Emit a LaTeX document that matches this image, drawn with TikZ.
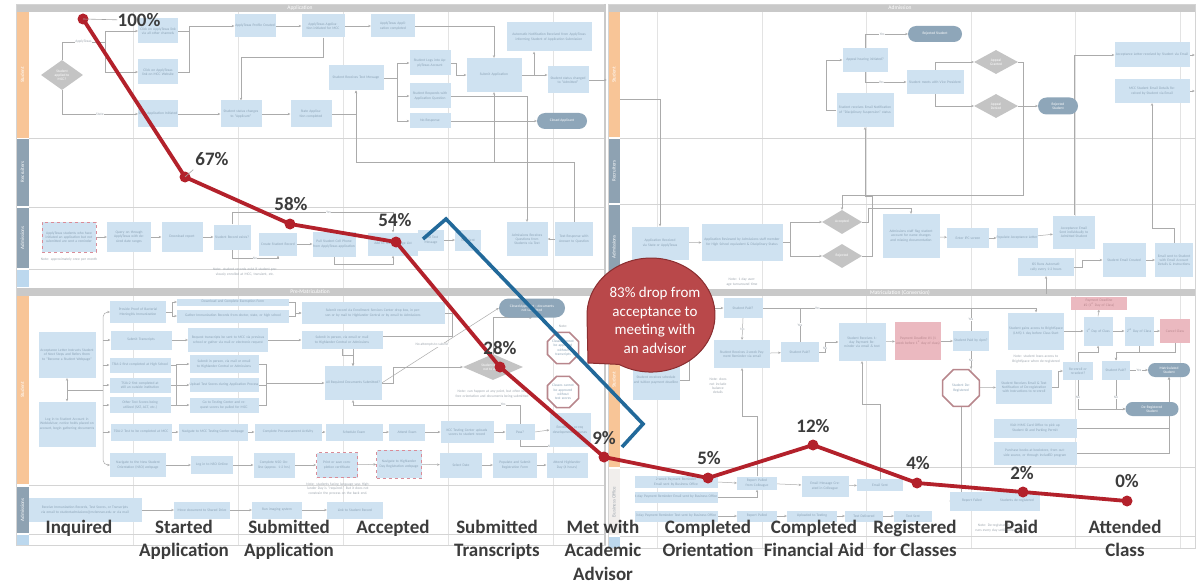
\documentclass[tikz,border=0pt]{standalone}
\usepackage{fontspec}
\setmainfont{Carlito}
\usetikzlibrary{arrows.meta,shapes.geometric,shapes.misc}
\definecolor{boxc}{HTML}{CFE2F1}
\definecolor{boxt}{HTML}{8CA3B6}
\definecolor{linec}{HTML}{ABABAB}
\definecolor{gridc}{HTML}{E3E3E3}
\definecolor{lanec}{HTML}{D4D4D4}
\definecolor{orangel}{HTML}{F8C597}
\definecolor{slate}{HTML}{8EA2B2}
\definecolor{paleblue}{HTML}{BCD8EE}
\definecolor{hdr}{HTML}{C9C9C9}
\definecolor{termc}{HTML}{8EA6B9}
\definecolor{dia}{HTML}{C4C4C4}
\definecolor{pinkc}{HTML}{EBB9C0}
\definecolor{pinkt}{HTML}{B98990}
\definecolor{dashc}{HTML}{D98C98}
\definecolor{octc}{HTML}{B8868C}
\definecolor{notec}{HTML}{A0A8B0}
\definecolor{redl}{HTML}{B3212B}
\definecolor{bluel}{HTML}{22699A}
\definecolor{callf}{HTML}{B9484A}
\definecolor{calld}{HTML}{8A2E30}
\definecolor{labc}{HTML}{3C3C3C}
\definecolor{busoff}{HTML}{F1EEEC}
\newcommand\bgfont{\fontsize{3.6}{4.2}\selectfont}
\newcommand\Bx[7][]{\node[bx,minimum width=#5pt,text width=#5pt,minimum height=#6pt,#1] (#2) at (#3,#4) {#7};}
\newcommand\Dm[7][]{\node[dm,minimum width=#5pt,minimum height=#6pt,#1] (#2) at (#3,#4) {#7};}
\newcommand\Tm[7][]{\node[tm,minimum width=#5pt,minimum height=#6pt,#1] (#2) at (#3,#4) {#7};}
\pgfdeclarelayer{bg}
\pgfdeclarelayer{mid}
\pgfdeclarelayer{fg}
\pgfsetlayers{bg,mid,main,fg}
\begin{document}
\begin{tikzpicture}[x=1pt,y=-1pt,
  bx/.style={fill=boxc,text=boxt,font=\bgfont,align=center,inner xsep=0pt,inner ysep=0.5pt},
  rbx/.style={fill=pinkc,text=pinkt},
  dsh/.style={draw=dashc,dashed,line width=0.9pt},
  dm/.style={diamond,fill=dia,text=white,font=\bgfont,align=center,inner sep=0pt,aspect=1.7},
  tm/.style={rounded rectangle,fill=termc,text=white,font=\bgfont,align=center,inner sep=1pt},
  oc/.style={regular polygon,regular polygon sides=8,draw=octc,line width=1.6pt,fill=white,text=boxt,font=\bgfont,align=center,inner sep=0pt,text width=22pt},
  ar/.style={draw=linec,line width=0.5pt,-{Stealth[length=2.6pt,width=2.4pt]}},
  arb/.style={draw=linec,line width=0.5pt,{Stealth[length=2.6pt,width=2.4pt]}-{Stealth[length=2.6pt,width=2.4pt]}},
  ln/.style={draw=linec,line width=0.5pt},
  lbl/.style={font=\bgfont,text=notec,fill=white,inner sep=0.3pt},
  nt/.style={font=\bgfont,text=notec,align=center,inner sep=0pt},
  lane/.style={font=\fontsize{5}{5}\selectfont,text=white,rotate=90},
  hd/.style={font=\fontsize{5.5}{5.5}\selectfont,text=white},
  pct/.style={font=\fontsize{19}{19}\selectfont\bfseries,text=labc,inner sep=0pt,anchor=north},
  cat/.style={font=\fontsize{19}{23.5}\selectfont\bfseries,text=labc,inner sep=0pt,anchor=north,align=center}]
\useasboundingbox (0,0) rectangle (1202,583);
\begin{pgfonlayer}{bg}
\fill[white] (0,0) rectangle (1202,583);
% grid
\foreach \gx in {133,238,343,448,553} {\draw[gridc,line width=0.6pt] (\gx,12) -- (\gx,545);}
\foreach \gx in {657,762,866,971,1075,1180} {\draw[gridc,line width=0.6pt] (\gx,12) -- (\gx,548);}
% left panel
\fill[hdr] (16,4) rectangle (605,12);
\fill[orangel] (16,12) rectangle (29,138);
\fill[slate] (16,139) rectangle (29,206);
\fill[slate] (16,208) rectangle (29,268);
\fill[paleblue] (16,270) rectangle (29,287);
\fill[hdr] (16,288) rectangle (605,296);
\fill[orangel] (16,296) rectangle (29,484);
\fill[slate] (16,487) rectangle (29,533);
\fill[paleblue] (16,535) rectangle (29,545);
\foreach \hy in {138.5,207,269,485.5,534} {\draw[lanec,line width=0.6pt] (29,\hy) -- (605,\hy);}
\draw[lanec,line width=0.6pt] (16,4) rectangle (605,545);
\draw[hdr,line width=1.6pt] (605,4) -- (605,545);
% right panel
\fill[hdr] (608,4) rectangle (1195,12);
\fill[orangel] (608,12) rectangle (620,137);
\fill[slate] (608,139) rectangle (620,203);
\fill[slate] (608,205) rectangle (620,289);
\fill[hdr] (608,289) rectangle (1195,296);
\fill[orangel] (608,296) rectangle (620,467);
\fill[busoff] (608,469) rectangle (620,535);
\fill[paleblue] (608,537) rectangle (620,548);
\foreach \hy in {138,204,467.5,536} {\draw[lanec,line width=0.6pt] (620,\hy) -- (1195,\hy);}
\draw[lanec,line width=0.6pt] (608,4) rectangle (1195,548);
\end{pgfonlayer}
% headers and lane labels
\node[hd] (h1) at (300,8) {Application};
\node[hd] (h2) at (310,292) {Pre-Matriculation};
\node[hd] (h3) at (900,8) {Admission};
\node[hd] (h4) at (900,292.5) {Matriculation (Conversion)};
\node[lane] (ln1) at (22.5,75) {Student};
\node[lane] (ln2) at (22.5,172) {Recruiters};
\node[lane] (ln3) at (22.5,238) {Admissions};
\node[lane] (ln4) at (22.5,390) {Student};
\node[lane] (ln5) at (22.5,510) {Admissions};
\node[lane] (ln6) at (614,75) {Student};
\node[lane] (ln7) at (614,171) {Recruiters};
\node[lane] (ln8) at (614,247) {Admissions};
\node[lane] (ln9) at (614,380) {Student};
\node[lane,text=notec] (ln10) at (614,502) {Business Office};
% ---------- Application / Student
\Dm{a1}{62}{75}{42}{30}{Student\\applied to\\MCC?}
\Bx{a2}{158}{31}{40}{25}{Click on ApplyTexas link via all other channels}
\Bx{a3}{158}{72}{40}{25}{Click on ApplyTexas link on MCC Website}
\Bx{a4}{158}{114}{40}{27}{State Application Initiated}
\Bx{a5}{255}{26}{41}{23}{ApplyTexas Profile Created}
\Bx{a6}{323}{26}{43}{23}{ApplyTexas Application initiated for MCC}
\Bx{a7}{393}{26}{44}{23}{ApplyTexas Application completed}
\Bx{a8}{241}{114}{41}{27}{Student status changes to ``Applicant''}
\Bx{a9}{311}{114}{41}{27}{State Application completed}
\Bx{a10}{356}{78}{55}{25}{Student Receives Text Message}
\Bx{a11}{430}{63}{41}{25}{Student Logs into ApplyTexas Account}
\Bx{a12}{430}{96}{41}{25}{Student Responds with Application Question}
\Bx{a13}{430}{121}{41}{15}{No Response}
\Bx{a14}{494}{75}{55}{34}{Submit Application}
\Bx{a15}{549}{37}{85}{29}{Automatic Notification Received from ApplyTexas informing Student of Application Submission}
\Bx{a16}{568}{80}{41}{27}{Student status changed to ``Admitted''}
\Tm{a17}{562}{121}{52}{16}{Closed Applicant}
% ---------- Application / Admissions
\Bx[dsh]{c1}{69}{237}{54}{30}{ApplyTexas students who have initiated an application but not submitted are sent a reminder}
\Bx{c2}{129}{237}{44}{30}{Query on through ApplyTexas with desired date ranges}
\Bx{c3}{182}{237}{41}{30}{Download report}
\Bx{c4}{232}{237}{37}{25}{Student Record exists?}
\Bx{c5}{278}{244}{38}{23}{Create Student Record}
\Bx{c6}{334}{244}{43}{25}{Pull Student Cell Phone from ApplyTexas application}
\Bx{c7}{393}{244}{50}{23}{Add to Text Message List}
\Bx{c8}{431}{240}{26}{21}{Send Text Message}
\Bx{c9}{468}{240}{26}{21}{Text Sent}
\Bx{c10}{527}{239}{41}{34}{Admissions Receives Questions from Students via Text}
\Bx{c11}{574}{239}{38}{34}{Text Response with Answer to Question}
\node[nt,text width=60pt] (n1) at (69,260) {Note: approximately once per month};
\node[nt,text width=80pt] (n2) at (245,272) {Note: student records exist if student previously enrolled at MCC, transient, etc.};
% ---------- Pre-Matriculation / Student
\Bx{p1}{67}{355}{57}{46}{Acceptance Letter Instructs Student of Next Steps and Refers them to ``Become a Student Webpage''}
\Bx{p2}{67}{424}{57}{45}{Log in to Student Account in WebAdvisor, notice holds placed on account, begin gathering documents}
\Bx{p3}{138}{312}{56}{22}{Provide Proof of Bacterial Meningitis Immunization}
\Bx{p4}{233}{302}{112}{7}{Download and Complete Exemption Form}
\Bx{p5}{233}{316}{112}{13}{Gather Immunization Records from doctor, state, or high school}
\Bx{p6}{373}{313}{143}{22}{Submit record via Enrollment Services Center drop box, in person or by mail to Highlander Central or by email to Admissions}
\Bx{p7}{141}{340}{61}{19}{Submit Transcripts}
\Bx{p8}{228}{340}{80}{24}{Request transcripts be sent to MCC via previous school or gather via mail or electronic request}
\Bx{p9}{342}{340}{81}{18}{Submit in person, via email or mail to Highlander Central or Admissions}
\Bx{p10}{140}{365}{61}{15}{TSIA-2 first completed at High School}
\Bx{p11}{140}{385}{61}{15}{TSIA-2 first completed at still an outside institution}
\Bx{p12}{140}{405}{61}{16}{Other Test Scores being utilized (SAT, ACT, etc.)}
\Bx{p13}{224}{364}{69}{18}{Submit in person, via mail or email to Highlander Central or Admissions}
\Bx{p14}{224}{385}{69}{14}{Upload Test Scores during Application Process}
\Bx{p15}{224}{405}{69}{15}{Go to Testing Center and request scores be pulled for MCC}
\Bx{p16}{353}{383}{57}{34}{All Required Documents Submitted?}
\Dm{p17}{493}{367}{60}{26}{Student decides\\not to attend}
\Tm{p18}{532}{308}{68}{19}{Closed Applicant -- documents\\not submitted}
\node[oc] (p19) at (563,348) {Classes cannot be approved without transcripts};
\node[oc] (p20) at (563,392) {Classes cannot be approved without test scores};
\Bx{p21}{141}{432}{61}{17}{TSIA-2 Test to be completed at MCC}
\Bx{p22}{213}{432}{69}{17}{Navigate to MCC Testing Center webpage}
\Bx{p23}{288}{432}{67}{17}{Complete Pre-assessment Activity}
\Bx{p24}{354}{432}{57}{17}{Schedule Exam}
\Bx{p25}{407}{432}{36}{17}{Attend Exam}
\Bx{p26}{467}{432}{53}{22}{KCC Testing Center uploads scores to student record}
\Bx{p27}{520}{432}{29}{16}{Pass?}
\Bx{p28}{570}{430}{41}{34}{Enrolled in co-req developmental courses}
\Bx{p29}{138}{465}{56}{24}{Navigate to the New Student Orientation (NSO) webpage}
\Bx{p30}{212}{465}{42}{18}{Log in to NSO Online}
\Bx{p31}{274}{465}{41}{25}{Complete NSO Online (approx. 1-2 hrs)}
\Bx[dsh]{p32}{337}{465}{41}{25}{Print or save completion certificate}
\Bx[dsh]{p33}{399}{464}{45}{28}{Navigate to Highlander Day Registration webpage}
\Bx{p34}{461}{465}{42}{25}{Select Date}
\Bx{p35}{515}{465}{44}{25}{Populate and Submit Registration Form}
\Bx{p36}{567}{465}{41}{25}{Attend Highlander Day (4 hours)}
\node[nt] (n3) at (563,326) {Note:};
\node[lbl] (n4) at (432,345) {No attempts to submit};
\node[nt,text width=85pt] (n5) at (492,394) {Note: can happen at any point, but often before orientation and documents being submitted};
\node[nt,text width=92pt] (n6) at (338,489) {Note: students facing language says Highlander Day is ``required.'' But it does not constrain the process on the back end.};
% ---------- Pre-Matriculation / Admissions
\Bx{p37}{85}{510}{113}{24}{Receive Immunization Records, Test Scores, or Transcripts via email to studentadmissions@mclennan.edu or via mail}
\Bx{p38}{202}{510}{56}{17}{Move document to Shared Drive}
\Bx{p39}{277}{510}{50}{17}{Run imaging system}
\Bx{p40}{355}{510}{56}{17}{Link to Student Record}
% ---------- Admission / Student
\Bx{r1}{865}{60}{45}{24}{Appeal hearing initiated?}
\Tm{r2}{935}{34}{56}{16}{Rejected Student}
\Bx{r3}{935}{82}{57}{24}{Student meets with Vice President}
\Dm{r4}{996}{62}{44}{24}{Appeal\\Granted}
\Dm{r5}{996}{106}{44}{24}{Appeal\\Denied}
\Tm{r6}{1058}{106}{42}{17}{Rejected\\Student}
\Bx{r7}{865}{110}{57}{34}{Student receives Email Notification of ``Disciplinary Suspension'' status}
\Bx{r8}{1152}{55}{75}{25}{Acceptance Letter received by Student via Email}
\Bx{r9}{1152}{91}{75}{24}{MCC Student Email Details Received by Student via Email}
% ---------- Admission / Admissions
\Bx{r10}{660}{243}{57}{33}{Application Received via State or ApplyTexas}
\Bx{r11}{742}{242}{81}{37}{Application Reviewed by Admissions staff member for High School equivalent \& Disciplinary Status}
\Dm{r12}{842}{222}{40}{24}{Accepted}
\Dm{r13}{842}{256}{40}{24}{Rejected}
\Bx{r14}{911}{236}{57}{44}{Admissions staff flag student account for name changes and missing documentation}
\Bx{r15}{968}{238}{42}{20}{Enter IPC screen}
\Bx{r16}{1017}{238}{41}{20}{Populate Acceptance Letter}
\Bx{r17}{1074}{232}{42}{33}{Acceptance Email Sent individually to Admitted Student}
\Bx{r18}{1046}{267}{56}{18}{ISS Runs Automatically every 1-2 hours}
\Bx{r19}{1124}{260}{43}{34}{Student Email Created}
\Bx{r20}{1174}{260}{38}{34}{Email sent to Student with Email Account Details \& Instructions}
\node[nt,text width=50pt] (n7) at (742,282) {Note: 1 day average turnaround time};
% ---------- Matriculation / Student
\Bx{m1}{656}{380}{47}{40}{Student receives schedule and tuition payment deadline}
\Bx{m2}{743}{308}{39}{20}{Student Paid?}
\Bx{m3}{742}{354}{56}{28}{Student Receives 2-week Payment Reminder via email}
\Bx{m4}{800}{352}{38}{20}{Student Paid?}
\Bx{m5}{862}{342}{47}{38}{Student Receives 1-day Payment Reminder via email \& text}
\Bx[rbx]{m6}{918}{341}{46}{38}{Payment Deadline \#1 (1 week before 1\textsuperscript{st} day of class)}
\Bx{m7}{971}{341}{36}{20}{Student Paid by 6pm?}
\node[oc,text width=26pt] (m8) at (961,388) {Student De-Registered};
\Bx{m9}{1024}{387}{56}{34}{Student Receives Email \& Text Notification of De-registration with Instructions to re-enroll}
\Bx{m10}{1036}{331}{56}{37}{Student gains access to BrightSpace (LMS) 1 day before Class Start}
\Bx{m11}{1078}{371}{30}{18}{Re-enroll or re-select?}
\Bx[rbx]{m12}{1099}{303}{56}{13}{Payment Deadline \#2 (1\textsuperscript{st} Day of Class)}
\Bx{m13}{1098}{331}{29}{29}{1\textsuperscript{st} Day of Class}
\Bx{m14}{1139}{331}{29}{29}{2\textsuperscript{nd} Day of Class}
\Bx[rbx]{m15}{1175}{331}{30}{24}{Cancel Class}
\Bx{m16}{1116}{370}{28}{19}{Student Paid?}
\Tm{m17}{1169}{370}{44}{14}{Matriculated\\Student}
\Tm{m18}{1152}{409}{55}{14}{De-Registered\\Student}
\Bx{m19}{1035}{428}{83}{19}{Visit MMC Card Office to pick up Student ID and Parking Permit}
\Bx{m20}{1035}{453}{83}{23}{Purchase books at bookstore, from outside source, or through IncludED program}
\node[nt,text width=22pt] (n8) at (718,386) {Note: does not include balance details};
\node[nt,text width=55pt] (n9) at (1036,359) {Note: student loses access to BrightSpace when de-registered};
% ---------- Business Office
\Bx{o1}{676}{482}{83}{12}{2-week Payment Reminder Email sent by Business Office}
\Bx{o2}{676}{497}{83}{11}{1-day Payment Reminder Email sent by Business Office}
\Bx{o3}{757}{483}{40}{13}{Report Pulled from Colleague}
\Bx{o4}{825}{486}{47}{21}{Email Message Created in Colleague}
\Bx{o5}{880}{485}{46}{12}{Email Sent}
\Bx{o6}{972}{501}{45}{19}{Report Failed}
\Bx{o7}{1017}{501}{45}{19}{Students de-registered}
\Bx{o8}{676}{516}{83}{11}{3-day Payment Reminder Text sent by Business Office}
\Bx{o9}{757}{516}{40}{11}{Report Pulled}
\Bx{o10}{812}{516}{50}{11}{Uploaded to Texting}
\Bx{o11}{864}{516}{38}{11}{Text Delivered}
\Bx{o12}{913}{516}{38}{11}{Text Sent}
\node[nt,text width=75pt] (n10) at (1000,528) {Note: De-registration process runs every day until Census Date};
% ---------- connectors
\begin{pgfonlayer}{mid}
\coordinate (j1) at (105,42);
\draw[ln] (a1.north) |- (j1) node[lbl,pos=0.75]{ApplyTexas};
\draw[ar] (j1) |- (a2.west);
\draw[ar] (j1) |- (a3.west);
\draw[ar] (a1.south) |- (a4.west) node[lbl,pos=0.75]{State};
\coordinate (j2) at (189,26);
\draw[ln] (a2.east) -| (j2);
\draw[ln] (a3.east) -| (j2);
\draw[ar] (j2) -- (a5.west);
\draw[ar] (a5) -- (a6);
\draw[ar] (a6) -- (a7);
\draw[ar] (a6.south) -- ++(0,20) -| (a8.north);
\draw[ar] (a4) -- (a8);
\draw[ar] (a8) -- (a9);
\draw[ar] (a9.east) -| (a10.south);
\coordinate (j5) at (397,78);
\draw[ln] (a10.east) -- (j5);
\draw[ar] (j5) |- (a11.west);
\draw[ar] (j5) |- (a12.west);
\draw[ar] (j5) |- (a13.west);
\draw[ar] (a7.east) -| (a14.north);
\draw[ar] (a11.east) -- ++(6,0) |- (a14.west);
\draw[ar] (a13.east) -- (a17.west);
\coordinate (j6) at (534,75);
\draw[ln] (a14.east) -- (j6);
\draw[ar] (j6) -- (j6 |- a15.south);
\draw[ar] (j6) -- (j6 -| a16.west);
\draw[ar] (a16.east) -- ++(18,0);
\draw[ar] (a12.east) -| (c10.north);
\draw[ar] (c11.north) -- ++(0,-60) -| (a10.south);
\coordinate (j8) at (494,162);
\draw[ar] (j8) -- (a14.south);
\draw[ar] (c11.west) -- (c10.east);
\draw[ar] (c1) -- (c2);
\draw[ar] (c2) -- (c3);
\draw[ar] (c3) -- (c4);
\draw[ar] (c4.south) -- ++(0,9) -| (c5.south) node[lbl,pos=0.25]{No};
\draw[ar] (c4.north) -- ++(0,-12) -| (c7.north) node[lbl,pos=0.3]{Yes};
\draw[ar] (c5) -- (c6);
\draw[ar] (c6.south) -- ++(0,8) -| (c7.south);
\draw[ar] (c7) -- (c8);
\draw[ar] (c8) -- (c9);
% pre-matriculation
\draw[arb] (p1.south) -- (p2.north);
\coordinate (jb) at (103,390);
\draw[ln] (p1.south |- jb) -- (jb);
\draw[ar,rounded corners=5pt] (jb) |- (p3.west);
\draw[ar,rounded corners=5pt] (jb) |- (p29.west);
\draw[ar] (jb |- p7.west) -- (p7.west);
\draw[ar] (jb |- p10.west) -- (p10.west);
\draw[ar] (jb |- p11.west) -- (p11.west);
\draw[ar] (jb |- p12.west) -- (p12.west);
\draw[ar] (jb |- p21.west) -- (p21.west);
\draw[ar] (p3.east) -- ++(6,0) |- (p4.west);
\draw[ar] (p3.east) -- ++(6,0) |- (p5.west);
\draw[ar] (p4.east) -- ++(6,0) |- (p6.west);
\draw[ar] (p5.east) -- ++(6,0) |- (p6.west);
\draw[ar] (p7) -- (p8);
\draw[ar] (p8) -- (p9);
\draw[ar] (p9.south) -- ++(0,6) -| (p16.north);
\draw[ar] (p6.east) -- ++(8,0) -- ++(0,23) -| (p16.north);
\draw[ln] (p10.east) -- ++(6,0) |- (p12.east);
\draw[ar] (p11.east) -- (p14.west);
\draw[ar] (p11.east) ++(6,0) |- (p13.west);
\draw[ar] (p11.east) ++(6,0) |- (p15.west);
\draw[ln] (p13.east) -- ++(8,0) |- (p15.east);
\draw[ar] (p14.east) -- ++(8,0) |- (p16.west);
\draw[ar] (p16.east) -- (p18.west);
\draw[ar] (p16.east) -- ++(12,0) |- (p17.west);
\draw[ar] (p17.north) |- (p18.south);
\draw[ar] (p21) -- (p22);
\draw[ar] (p22) -- (p23);
\draw[ar] (p23) -- (p24);
\draw[ar] (p24) -- (p25);
\draw[ar] (p25) -- (p26);
\draw[ar] (p26) -- (p27);
\draw[ar] (p27.east) -- (p28.west);
\draw[ar] (p27.south) -- ++(0,6) -| (p28.south) node[lbl,pos=0.3]{No};
\draw[ar] (p27.north) -- ++(0,-19) -| (p16.south) node[lbl,pos=0.05]{Yes};
\draw[ar] (p29) -- (p30);
\draw[ar] (p30) -- (p31);
\draw[ar] (p31) -- (p32);
\draw[ar] (p32) -- (p33);
\draw[ar] (p33) -- (p34);
\draw[ar] (p34) -- (p35);
\draw[ar] (p35) -- (p36);
\draw[ar] (p37) -- (p38);
\draw[ar] (p38) -- (p39);
\draw[ar] (p39) -- (p40);
% admission
\coordinate (j7) at (620,99);
\draw[ar] (j7) -| (r10.north);
\draw[ar] (r10) -- (r11);
\draw[ar] (r11.east) -- ++(8,0) |- (r12.west);
\draw[ar] (r11.east) -- ++(8,0) |- (r13.west);
\draw[ar] (r12.east) -- ++(6,0) -- ++(0,-14) -| (r14.north);
\draw[ar] (r13.east) -- ++(10,0) -- ++(0,-60) -| (r7.south);
\draw[ar] (r7.west) -- ++(-10,0) |- (r1.west);
\draw[ar] (r1.north) |- (r2.west) node[lbl,pos=0.7]{Yes};
\draw[ar] (r1.south) |- (r3.west) node[lbl,pos=0.7]{Yes};
\draw[ar] (r3.north) |- (r4.west);
\draw[ar] (r3.south) |- (r5.west);
\draw[ar] (r5.east) -- (r6.west);
\draw[ar] (r4.east) -- ++(5,0) -- ++(0,133) -| (r12.north);
\draw[ar] (r14) -- (r15);
\draw[ar] (r15) -- (r16);
\draw[ar] (r16) -- (r17);
\draw[ar] (r17.north) |- (r8.west);
\draw[ar] (r18.east) -- ++(8,0) |- (r19.west);
\draw[ar] (r19) -- (r20);
\draw[ar] (r20.north) -- ++(0,-15) -| (r9.south);
\draw[ar] (r8.east) -- ++(5,0);
\draw[ar] (r9.east) -- ++(5,0);
\draw[ar] (r18.south) ++(0,18) -- (r18.south);
% matriculation
\draw[ar] (m1.east) -- ++(10,0) |- (m2.west);
\draw[ar] (m2.east) -| (m10.north) node[lbl,pos=0.1]{Yes};
\draw[ar] (m2.south) -- (m3.north) node[lbl,midway]{No};
\draw[ar] (m3) -- (m4);
\draw[ln] (m4.north) -- (m4.north |- m2.east) node[lbl,midway]{Yes};
\draw[ar] (m4.east) -- ++(6,0) |- (m5.west) node[lbl,pos=0.2]{No};
\draw[ar] (m5) -- (m6);
\draw[ar] (m6) -- (m7);
\draw[ln] (m7.north) -- (m7.north |- m2.east) node[lbl,midway]{Yes};
\draw[ar] (m7.south) -- (m7.south |- m8.north) node[lbl,midway]{No};
\draw[ar] (m8) -- (m9);
\draw[ar] (m9.east) -- ++(6,0) |- (m11.west);
\draw[ar] (m11.north) -- ++(0,-10) -| (m13.south);
\draw[ar] (m11.south) |- (m18.west) node[lbl,pos=0.3]{No};
\draw[ar] (m10.east) -- (m13.west);
\draw[ar] (m13) -- (m14);
\draw[ar] (m14) -- (m15);
\draw[ar] (m13.north) -- (m12.south);
\draw[ar] (m14.south) -- ++(0,7) -| (m16.north);
\draw[ar] (m15.south) -- ++(0,9) -| (m16.north);
\draw[ar] (m16.east) -- (m17.west) node[lbl,midway]{Yes};
\draw[ar] (m16.south) |- (m18.west) node[lbl,pos=0.3]{No};
\draw[ar] (m19.east) -| (m17.south);
\draw[ar] (m20.east) -| (m17.south);
\draw[ar] (o5.north) -- ++(0,-75) -| (m5.south);
\draw[ar] (o3.north) -- ++(0,-60) -| (m3.south);
\draw[ar] (o1.east) -- (o3.west);
\draw[ar] (o2.east) -| (o3.south);
\draw[ar] (o3) -- (o4);
\draw[ar] (o4) -- (o5);
\draw[ar] (o6) -- (o7);
\draw[ar] (o8) -- (o9);
\draw[ar] (o9) -- (o10);
\draw[ar] (o10) -- (o11);
\draw[ar] (o11) -- (o12);
\draw[ar] (m8.south) |- (o6.west);
\end{pgfonlayer}
% ---------- foreground: funnel line
\begin{pgfonlayer}{fg}
\coordinate (b1) at (423,239);
\coordinate (b2) at (446,219);
\coordinate (b3) at (643,424);
\coordinate (b4) at (622,447);
\draw[bluel,line width=3.6pt] (b1) -- (b2) -- (b3) -- (b4);
\coordinate (d1) at (83,19);
\coordinate (d2) at (185,177);
\coordinate (d3) at (290,224);
\coordinate (d4) at (396,242);
\coordinate (d5) at (500,367);
\coordinate (d6) at (604,457);
\coordinate (d7) at (708,478);
\coordinate (d8) at (813,445);
\coordinate (d9) at (917,483);
\coordinate (d10) at (1023,492);
\coordinate (d11) at (1127,501);
\draw[redl,line width=3.8pt,line join=round] (d1) -- (d2) -- (d3) -- (d4) -- (d5) -- (d6) -- (d7) -- (d8) -- (d9) -- (d10) -- (d11);
\foreach \i in {1,...,11} {\fill[redl] (d\i) circle[radius=5.5pt];}
\node[pct] (l1) at (139,13) {100\%};
\node[pct] (l2) at (212,152) {67\%};
\node[pct] (l3) at (291,197) {58\%};
\node[pct] (l4) at (395,213) {54\%};
\node[pct] (l5) at (500,341) {28\%};
\node[pct] (l6) at (604,431) {9\%};
\node[pct] (l7) at (709,451) {5\%};
\node[pct] (l8) at (813,419) {12\%};
\node[pct] (l9) at (918,456) {4\%};
\node[pct] (l10) at (1022,466) {2\%};
\node[pct] (l11) at (1127,474) {0\%};
\draw[gray!70,line width=0.6pt] (d1) -- (l1.west);
\draw[gray!70,line width=0.6pt] (d2) -- ([xshift=-2pt,yshift=-4pt]l2.south west);
% callout
\filldraw[fill=callf,draw=calld,line width=1pt] (588,363) -- (619,364.4) arc[start angle=240,end angle=540,x radius=64pt,y radius=57pt] -- cycle;
\node[font=\fontsize{15}{18.5}\selectfont,text=white,align=center,inner sep=0pt,anchor=north] (call) at (655,287) {83\% drop from\\acceptance to\\meeting with\\an advisor};
% stage labels
\node[cat] (t1) at (79,519.5) {Inquired};
\node[cat] (t2) at (184,519.5) {Started\\Application};
\node[cat] (t3) at (289,519.5) {Submitted\\Application};
\node[cat] (t4) at (393,519.5) {Accepted};
\node[cat] (t5) at (497,519.5) {Submitted\\Transcripts};
\node[cat] (t6) at (603,519.5) {Met with\\Academic\\Advisor};
\node[cat] (t7) at (708,519.5) {Completed\\Orientation};
\node[cat] (t8) at (814,519.5) {Completed\\Financial Aid};
\node[cat] (t9) at (915,519.5) {Registered\\for Classes};
\node[cat] (t10) at (1021,519.5) {Paid};
\node[cat] (t11) at (1125,519.5) {Attended\\Class};
\end{pgfonlayer}
\end{tikzpicture}
\end{document}
